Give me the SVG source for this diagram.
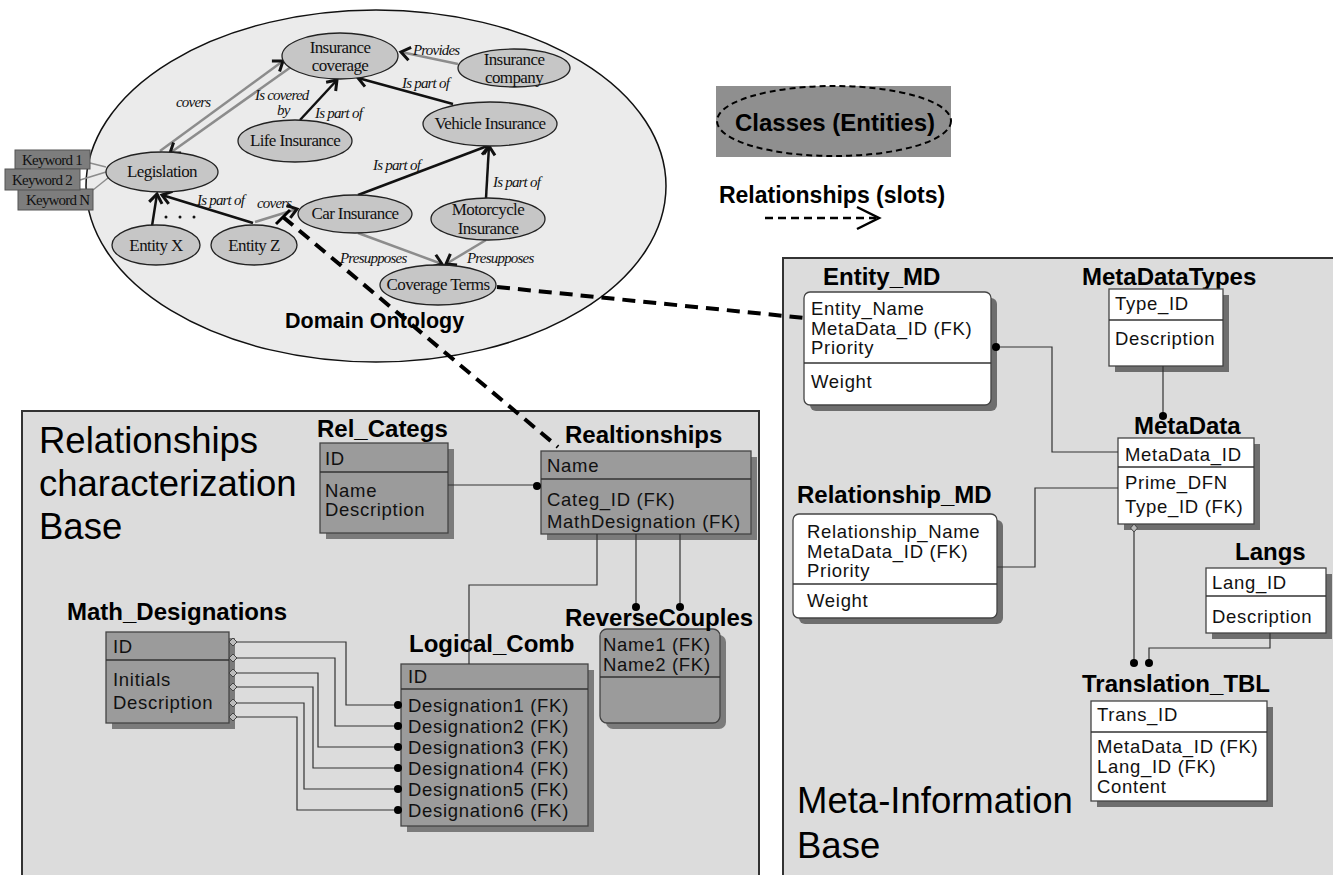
<svg xmlns="http://www.w3.org/2000/svg" width="1333" height="875" viewBox="0 0 1333 875">
<defs>
<marker id="ah" markerUnits="userSpaceOnUse" markerWidth="16" markerHeight="16" refX="11" refY="8" orient="auto" overflow="visible"><path d="M2,1.5 L11,8 L2,14.5" fill="none" stroke="#111" stroke-width="3"/></marker>
<style>
.onode{fill:#c6c6c6;stroke:#222;stroke-width:1.3}
.ot{font-family:"Liberation Serif",serif;font-size:17px;letter-spacing:-0.6px;fill:#111;text-anchor:middle}
.lab{font-family:"Liberation Serif",serif;font-style:italic;font-size:15px;letter-spacing:-0.8px;fill:#111}
.kw{font-family:"Liberation Serif",serif;font-size:15px;letter-spacing:-0.8px;fill:#111}
.kbox{fill:#7d7d7d;stroke:#555;stroke-width:1}
.blk{stroke:#111;stroke-width:2.5;fill:none}
.gry{stroke:#8c8c8c;stroke-width:2.5;fill:none}
.dash{stroke:#000;stroke-width:4;stroke-dasharray:13 8;fill:none}
.er{stroke:#333;stroke-width:1.2;fill:none}
.dot{fill:#000}
.dia{fill:#bbb;stroke:#444;stroke-width:1}
.ttl{font-family:"Liberation Sans",Arial,sans-serif;font-weight:bold;font-size:24px;fill:#000}
.fld{font-family:"Liberation Sans",Arial,sans-serif;font-size:18.5px;letter-spacing:0.7px;fill:#111}
.gbox{fill:#9b9b9b;stroke:#444;stroke-width:1.3}
.wbox{fill:#fff;stroke:#444;stroke-width:1.3}
.gsh{fill:#7b7b7b}
.wsh{fill:#6e6e6e}
.div{stroke:#333;stroke-width:1.5}
.big{font-family:"Liberation Sans",Arial,sans-serif;font-size:36.5px;fill:#000}
</style>
</defs>
<rect x="0" y="0" width="1333" height="875" fill="#fff"/>

<!-- Panels -->
<g id="panel-relationships">
<rect x="22" y="411" width="737" height="480" fill="#dcdcdc" stroke="#333" stroke-width="2"/>
<text class="big" x="39" y="453">Relationships</text>
<text class="big" x="39" y="496">characterization</text>
<text class="big" x="39" y="539">Base</text>
</g>
<g id="panel-meta">
<rect x="783" y="258" width="570" height="640" fill="#dcdcdc" stroke="#333" stroke-width="2"/>
<text class="big" x="797" y="813">Meta-Information</text>
<text class="big" x="797" y="858">Base</text>
</g>

<!-- Ontology -->
<g id="domain-ontology">
<ellipse cx="376" cy="186" rx="290" ry="176" fill="#ebebeb" stroke="#111" stroke-width="1.5"/>
<text x="285" y="328" font-family="Liberation Sans, Arial, sans-serif" font-weight="bold" font-size="21.5" fill="#000">Domain Ontology</text>
</g>

<g id="ontology-connectors">
<line class="gry" x1="160" y1="151" x2="283" y2="61" marker-end="url(#ah)"/>
<line class="gry" x1="291" y1="67" x2="170" y2="153" marker-end="url(#ah)"/>
<line class="blk" x1="300" y1="120" x2="337" y2="80" marker-end="url(#ah)"/>
<line class="gry" x1="458" y1="64" x2="401" y2="52" marker-end="url(#ah)"/>
<line class="blk" x1="453" y1="104" x2="358" y2="78" marker-end="url(#ah)"/>
<line class="blk" x1="358" y1="195" x2="490" y2="145" marker-end="url(#ah)"/>
<line class="blk" x1="486" y1="198" x2="489" y2="146" marker-end="url(#ah)"/>
<line class="gry" x1="358" y1="233" x2="442" y2="264" marker-end="url(#ah)"/>
<line class="gry" x1="486" y1="240" x2="446" y2="264" marker-end="url(#ah)"/>
<line class="blk" x1="152" y1="226" x2="157" y2="194" marker-end="url(#ah)"/>
<line class="blk" x1="253" y1="223" x2="162" y2="195" marker-end="url(#ah)"/>
<line class="gry" x1="255" y1="222" x2="297" y2="209" marker-end="url(#ah)"/>
<line stroke="#8c8c8c" stroke-width="1.5" x1="90" y1="163" x2="106" y2="167"/>
<line stroke="#8c8c8c" stroke-width="1.5" x1="80" y1="180" x2="106" y2="172"/>
<line stroke="#8c8c8c" stroke-width="1.5" x1="93" y1="190" x2="108" y2="178"/>
<text class="lab" x="176" y="107">covers</text>
<text class="lab" x="255" y="100">Is covered</text>
<text class="lab" x="277" y="115">by</text>
<text class="lab" x="315" y="118">Is part of</text>
<text class="lab" x="413" y="55">Provides</text>
<text class="lab" x="402" y="88">Is part of</text>
<text class="lab" x="373" y="170">Is part of</text>
<text class="lab" x="493" y="187">Is part of</text>
<text class="lab" x="340" y="263">Presupposes</text>
<text class="lab" x="467" y="263">Presupposes</text>
<text class="lab" x="197" y="205">Is part of</text>
<text class="lab" x="257" y="208">covers</text>
<circle cx="166" cy="217" r="1.5" fill="#111"/><circle cx="180" cy="217" r="1.5" fill="#111"/><circle cx="194" cy="217" r="1.5" fill="#111"/>
</g>

<g id="n-insurance-coverage"><ellipse class="onode" cx="340" cy="56" rx="58" ry="23"/><text class="ot" x="340" y="53">Insurance</text><text class="ot" x="340" y="71">coverage</text></g>
<g id="n-insurance-company"><ellipse class="onode" cx="514" cy="68" rx="56" ry="19"/><text class="ot" x="514" y="65">Insurance</text><text class="ot" x="514" y="83">company</text></g>
<g id="n-vehicle-insurance"><ellipse class="onode" cx="490" cy="124" rx="67" ry="22"/><text class="ot" x="490" y="129">Vehicle Insurance</text></g>
<g id="n-life-insurance"><ellipse class="onode" cx="295" cy="141" rx="57" ry="21"/><text class="ot" x="295" y="146">Life Insurance</text></g>
<g id="n-legislation"><ellipse class="onode" cx="162" cy="172" rx="56" ry="20"/><text class="ot" x="162" y="177">Legislation</text></g>
<g id="n-car-insurance"><ellipse class="onode" cx="355" cy="214" rx="57" ry="19"/><text class="ot" x="355" y="219">Car Insurance</text></g>
<g id="n-motorcycle-insurance"><ellipse class="onode" cx="488" cy="219" rx="57" ry="21"/><text class="ot" x="488" y="215">Motorcycle</text><text class="ot" x="488" y="234">Insurance</text></g>
<g id="n-coverage-terms"><ellipse class="onode" cx="438" cy="285" rx="58" ry="20"/><text class="ot" x="438" y="290">Coverage Terms</text></g>
<g id="n-entity-x"><ellipse class="onode" cx="156" cy="245" rx="44" ry="20"/><text class="ot" x="156" y="251">Entity X</text></g>
<g id="n-entity-z"><ellipse class="onode" cx="254" cy="245" rx="43" ry="20"/><text class="ot" x="254" y="251">Entity Z</text></g>

<g id="keywords">
<rect class="kbox" x="15" y="150" width="75" height="19"/><text class="kw" x="22" y="165">Keyword 1</text>
<rect class="kbox" x="18" y="189" width="75" height="21"/><text class="kw" x="26" y="205">Keyword N</text>
<rect class="kbox" x="5" y="169" width="75" height="21"/><text class="kw" x="12" y="185">Keyword 2</text>
</g>

<!-- Legend -->
<g id="legend-classes">
<rect x="716" y="86" width="235" height="71" fill="#8f8f8f"/>
<ellipse cx="834" cy="121" rx="117" ry="35" fill="none" stroke="#000" stroke-width="2" stroke-dasharray="6 4"/>
<text x="835" y="131" text-anchor="middle" font-family="Liberation Sans, Arial, sans-serif" font-weight="bold" font-size="24" fill="#000">Classes (Entities)</text>
</g>
<g id="legend-relationships">
<text x="832" y="203" text-anchor="middle" font-family="Liberation Sans, Arial, sans-serif" font-weight="bold" font-size="23" fill="#000">Relationships (slots)</text>
<line x1="765" y1="218" x2="876" y2="218" stroke="#000" stroke-width="2.5" stroke-dasharray="8 5"/>
<polyline points="857,207 879,218 857,229" fill="none" stroke="#000" stroke-width="2.5"/>
</g>

<!-- Left tables -->
<g id="t-rel-categs">
<text class="ttl" x="317" y="437">Rel_Categs</text>
<rect class="gsh" x="326" y="449" width="128" height="90"/>
<rect class="gbox" x="320" y="443" width="128" height="90"/>
<line class="div" x1="320" y1="472" x2="448" y2="472"/>
<text class="fld" x="325" y="465">ID</text>
<text class="fld" x="325" y="497">Name</text>
<text class="fld" x="325" y="516">Description</text>
</g>
<g id="t-realtionships">
<text class="ttl" x="565" y="443">Realtionships</text>
<rect class="gsh" x="547" y="457" width="210" height="83"/>
<rect class="gbox" x="541" y="451" width="210" height="83"/>
<line class="div" x1="541" y1="479" x2="751" y2="479"/>
<text class="fld" x="547" y="472">Name</text>
<text class="fld" x="547" y="506">Categ_ID (FK)</text>
<text class="fld" x="547" y="528">MathDesignation (FK)</text>
</g>
<g id="t-reverse-couples">
<rect class="gsh" x="606" y="635" width="120" height="94" rx="7"/>
<rect class="gbox" x="600" y="629" width="120" height="94" rx="7"/>
<line class="div" x1="600" y1="677" x2="720" y2="677"/>
<text class="fld" x="603" y="651">Name1 (FK)</text>
<text class="fld" x="603" y="671">Name2 (FK)</text>
<text class="ttl" x="565" y="626">ReverseCouples</text>
</g>
<g id="t-logical-comb">
<text class="ttl" x="409" y="652">Logical_Comb</text>
<rect class="gsh" x="407" y="670" width="187" height="162"/>
<rect class="gbox" x="401" y="664" width="187" height="162"/>
<line class="div" x1="401" y1="689" x2="588" y2="689"/>
<text class="fld" x="408" y="683">ID</text>
<text class="fld" x="408" y="712">Designation1 (FK)</text>
<text class="fld" x="408" y="733">Designation2 (FK)</text>
<text class="fld" x="408" y="754">Designation3 (FK)</text>
<text class="fld" x="408" y="775">Designation4 (FK)</text>
<text class="fld" x="408" y="796">Designation5 (FK)</text>
<text class="fld" x="408" y="817">Designation6 (FK)</text>
</g>
<g id="t-math-designations">
<text class="ttl" x="67" y="620">Math_Designations</text>
<rect class="gsh" x="112" y="638" width="123" height="91"/>
<rect class="gbox" x="106" y="632" width="123" height="91"/>
<line class="div" x1="106" y1="660" x2="229" y2="660"/>
<text class="fld" x="113" y="653">ID</text>
<text class="fld" x="113" y="686">Initials</text>
<text class="fld" x="113" y="709">Description</text>
</g>

<!-- Meta tables -->
<g id="t-entity-md">
<text class="ttl" x="823" y="285">Entity_MD</text>
<rect class="wsh" x="810" y="298" width="187" height="113" rx="6"/>
<rect class="wbox" x="804" y="292" width="187" height="113" rx="6"/>
<line class="div" x1="804" y1="363" x2="991" y2="363"/>
<text class="fld" x="811" y="315">Entity_Name</text>
<text class="fld" x="811" y="335">MetaData_ID (FK)</text>
<text class="fld" x="811" y="354">Priority</text>
<text class="fld" x="811" y="388">Weight</text>
</g>
<g id="t-metadatatypes">
<text class="ttl" x="1082" y="285">MetaDataTypes</text>
<rect class="wsh" x="1115" y="295" width="114" height="77"/>
<rect class="wbox" x="1109" y="289" width="114" height="77"/>
<line class="div" x1="1109" y1="320" x2="1223" y2="320"/>
<text class="fld" x="1115" y="310">Type_ID</text>
<text class="fld" x="1115" y="345">Description</text>
</g>
<g id="t-metadata">
<text class="ttl" x="1134" y="434">MetaData</text>
<rect class="wsh" x="1124" y="444" width="136" height="86"/>
<rect class="wbox" x="1118" y="438" width="136" height="86"/>
<line class="div" x1="1118" y1="467" x2="1254" y2="467"/>
<text class="fld" x="1125" y="461">MetaData_ID</text>
<text class="fld" x="1125" y="489">Prime_DFN</text>
<text class="fld" x="1125" y="513">Type_ID (FK)</text>
</g>
<g id="t-relationship-md">
<text class="ttl" x="797" y="503">Relationship_MD</text>
<rect class="wsh" x="799" y="520" width="204" height="104" rx="6"/>
<rect class="wbox" x="793" y="514" width="204" height="104" rx="6"/>
<line class="div" x1="793" y1="584" x2="997" y2="584"/>
<text class="fld" x="807" y="538">Relationship_Name</text>
<text class="fld" x="807" y="558">MetaData_ID (FK)</text>
<text class="fld" x="807" y="577">Priority</text>
<text class="fld" x="807" y="607">Weight</text>
</g>
<g id="t-langs">
<text class="ttl" x="1235" y="560">Langs</text>
<rect class="wsh" x="1212" y="574" width="120" height="65"/>
<rect class="wbox" x="1206" y="568" width="120" height="65"/>
<line class="div" x1="1206" y1="596" x2="1326" y2="596"/>
<text class="fld" x="1212" y="589">Lang_ID</text>
<text class="fld" x="1212" y="623">Description</text>
</g>
<g id="t-translation-tbl">
<text class="ttl" x="1082" y="692">Translation_TBL</text>
<rect class="wsh" x="1097" y="707" width="176" height="100"/>
<rect class="wbox" x="1091" y="701" width="176" height="100"/>
<line class="div" x1="1091" y1="732" x2="1267" y2="732"/>
<text class="fld" x="1097" y="721">Trans_ID</text>
<text class="fld" x="1097" y="753">MetaData_ID (FK)</text>
<text class="fld" x="1097" y="773">Lang_ID (FK)</text>
<text class="fld" x="1097" y="793">Content</text>
</g>

<!-- Connectors -->
<g id="connectors">
<path class="dash" d="M283,217 L558,447"/>
<line x1="276" y1="224" x2="290" y2="210" stroke="#000" stroke-width="3"/>
<path class="dash" d="M497,287 L805,318"/>
<polyline class="er" points="448,485 537,485"/><circle class="dot" cx="537" cy="486" r="4"/>
<polyline class="er" points="597,534 597,585 469,585 469,664"/>
<polyline class="er" points="636,534 636,607"/><circle class="dot" cx="636" cy="607" r="4"/>
<polyline class="er" points="680,534 680,607"/><circle class="dot" cx="680" cy="607" r="4"/>
<polyline class="er" points="237,642 346,642 346,705 397,705"/>
<polyline class="er" points="237,658 335,658 335,726 397,726"/>
<polyline class="er" points="237,673 318,673 318,747 397,747"/>
<polyline class="er" points="237,687 313,687 313,768 397,768"/>
<polyline class="er" points="237,703 304,703 304,789 397,789"/>
<polyline class="er" points="237,717 297,717 297,810 397,810"/>
<path class="dia" d="M229,642 l4,-4 l4,4 l-4,4z M229,658 l4,-4 l4,4 l-4,4z M229,673 l4,-4 l4,4 l-4,4z M229,687 l4,-4 l4,4 l-4,4z M229,703 l4,-4 l4,4 l-4,4z M229,717 l4,-4 l4,4 l-4,4z"/>
<circle class="dot" cx="398" cy="705" r="4"/><circle class="dot" cx="398" cy="726" r="4"/><circle class="dot" cx="398" cy="747" r="4"/><circle class="dot" cx="398" cy="768" r="4"/><circle class="dot" cx="398" cy="789" r="4"/><circle class="dot" cx="398" cy="810" r="4"/>
<polyline class="er" points="997,347 1052,347 1052,452 1118,452"/><circle class="dot" cx="996" cy="347" r="4"/>
<polyline class="er" points="997,567 1035,567 1035,488 1118,488"/>
<polyline class="er" points="1163,366 1163,416"/><circle class="dot" cx="1163" cy="416" r="4"/>
<polyline class="er" points="1134,532 1134,663"/><path class="dia" d="M1134,524 l3.5,4 l-3.5,4 l-3.5,-4z" fill="#fff"/><circle class="dot" cx="1134" cy="663" r="4"/>
<polyline class="er" points="1270,633 1270,648 1149,648 1149,663"/><circle class="dot" cx="1149" cy="663" r="4"/>
</g>
</svg>
